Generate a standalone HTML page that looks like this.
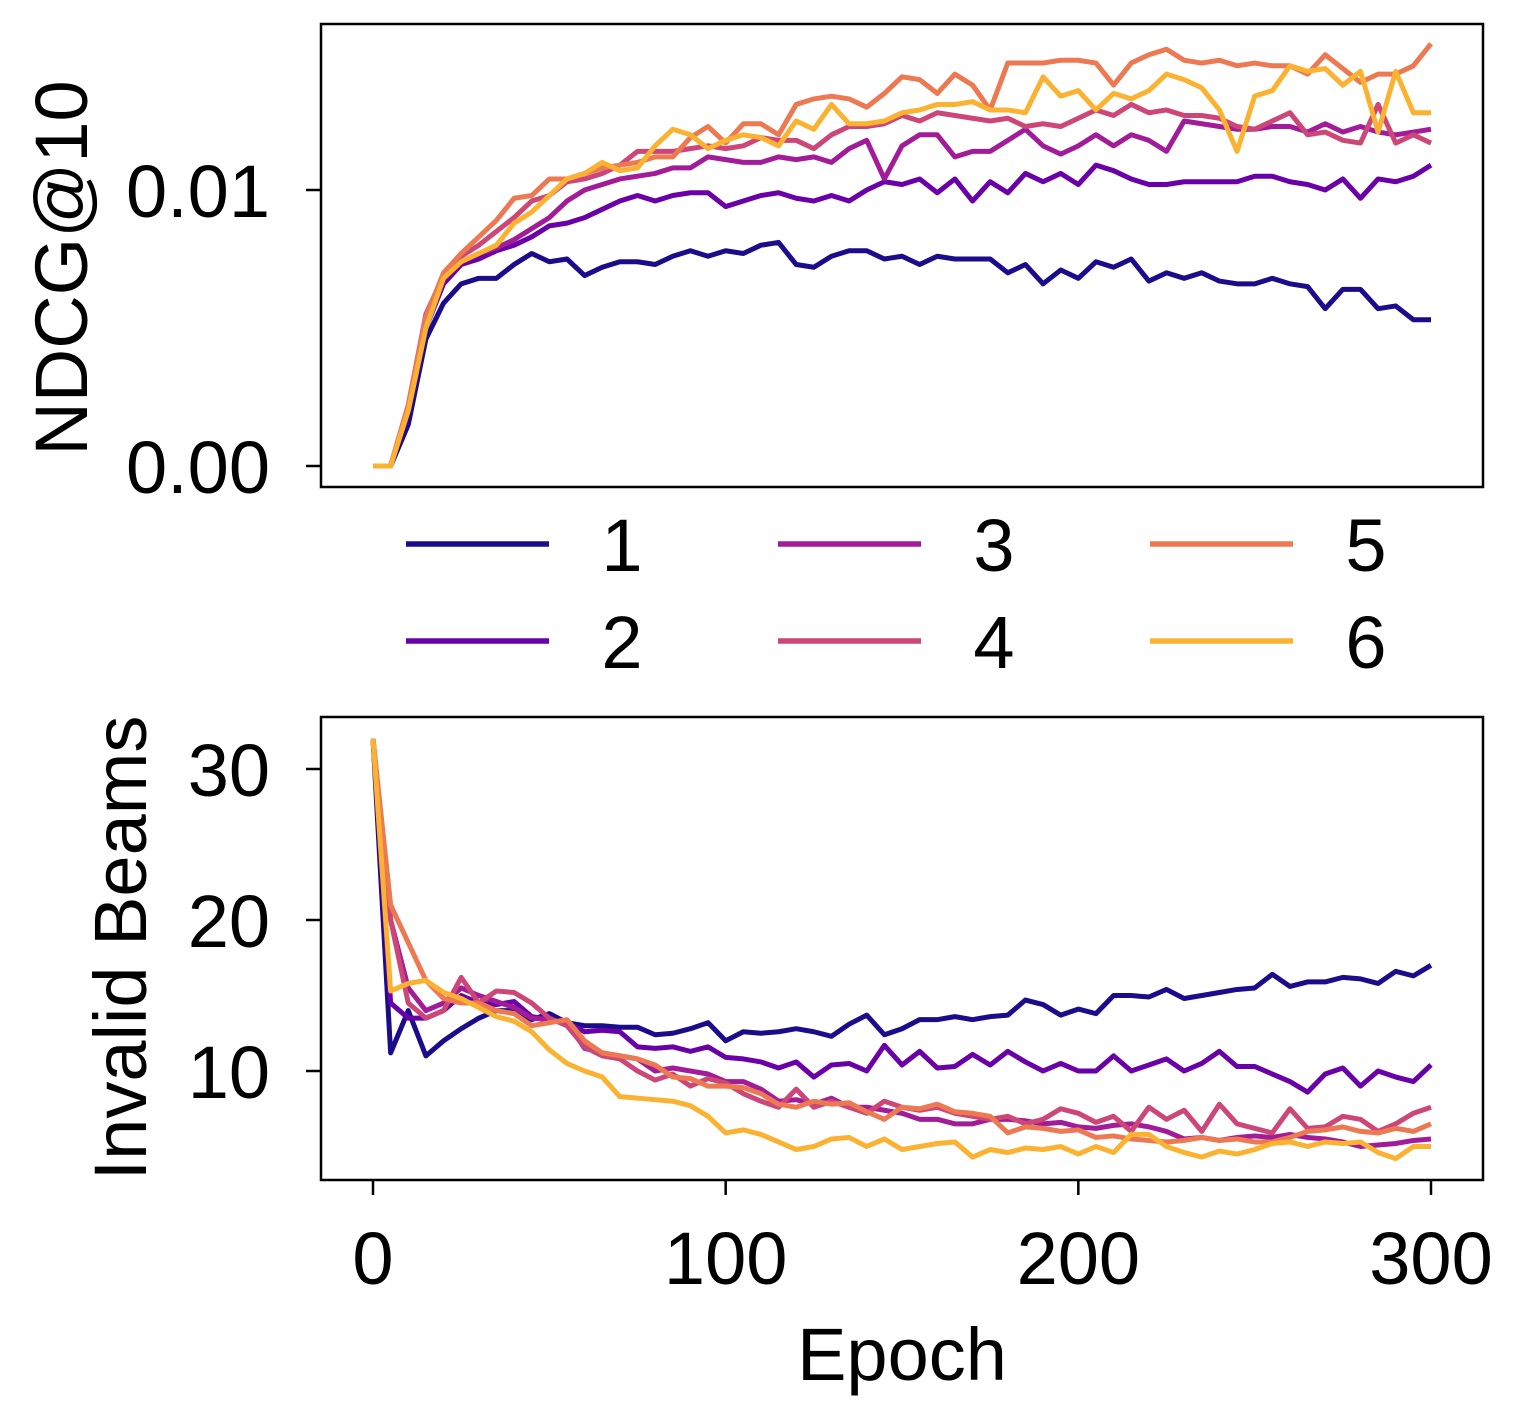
<!DOCTYPE html>
<html><head><meta charset="utf-8"><style>
body{margin:0;background:#fff}
svg text{font-family:"Liberation Sans",Arial,sans-serif;fill:#000}
</style></head><body>
<svg id="c" width="1519" height="1419" xmlns="http://www.w3.org/2000/svg"></svg>
<script>
const epochs=[];for(let i=0;i<=60;i++)epochs.push(i*5);
const seriesNames=["1","2","3","4","5","6"];
const colors=["#1b0c8c","#6a00a8","#a21c9a","#cc4778","#ed7953","#fbb231"];
const ndcg1=[0,0,1.5,4.6,5.9,6.6,6.8,6.8,7.3,7.7,7.4,7.5,6.9,7.2,7.4,7.4,7.3,7.6,7.8,7.6,7.8,7.7,8.0,8.1,7.3,7.2,7.6,7.8,7.8,7.5,7.6,7.3,7.6,7.5,7.5,7.5,7.0,7.3,6.6,7.1,6.8,7.4,7.2,7.5,6.7,7.0,6.8,7.0,6.7,6.6,6.6,6.8,6.6,6.5,5.7,6.4,6.4,5.7,5.8,5.3,5.3];
const ndcg2=[0,0,2.0,5.0,6.6,7.3,7.5,7.8,8.0,8.3,8.7,8.8,9.0,9.3,9.6,9.8,9.6,9.8,9.9,9.9,9.4,9.6,9.8,9.9,9.7,9.6,9.8,9.6,10.0,10.3,10.2,10.4,9.9,10.4,9.6,10.3,9.9,10.6,10.3,10.6,10.2,10.9,10.7,10.4,10.2,10.2,10.3,10.3,10.3,10.3,10.5,10.5,10.3,10.2,10.0,10.4,9.7,10.4,10.3,10.5,10.9];
const ndcg3=[0,0,2.2,5.3,6.8,7.4,7.7,7.9,8.2,8.6,9.0,9.6,10.0,10.2,10.4,10.5,10.6,10.8,10.8,11.2,11.1,11.0,11.0,11.2,11.1,11.2,11.0,11.5,11.8,10.4,11.6,12.0,12.0,11.2,11.4,11.4,11.8,12.2,11.6,11.3,11.6,12.0,11.6,12.0,11.8,11.4,12.5,12.4,12.3,12.2,12.2,12.3,12.3,12.1,12.4,12.1,12.3,12.1,12.0,12.1,12.2];
const ndcg4=[0,0,2.2,5.5,6.9,7.6,8.0,8.5,9.0,9.6,9.8,10.3,10.4,10.6,10.9,11.4,11.4,11.4,11.5,11.6,11.5,11.6,11.9,11.8,11.8,11.5,12.0,12.3,12.3,12.4,12.7,12.5,12.8,12.7,12.6,12.5,12.6,12.3,12.4,12.3,12.6,12.9,12.7,13.1,12.8,12.9,12.7,12.7,12.6,12.3,12.2,12.5,12.8,12.0,12.1,11.8,11.7,13.1,11.7,12.0,11.7];
const ndcg5=[0,0,2.2,5.4,7.0,7.7,8.3,8.9,9.7,9.8,10.4,10.4,10.6,10.8,10.9,11.0,11.2,11.2,11.9,12.3,11.7,12.4,12.4,12.0,13.1,13.3,13.4,13.3,13.0,13.5,14.1,14.0,13.5,14.2,13.8,12.9,14.6,14.6,14.6,14.7,14.7,14.6,13.8,14.6,14.9,15.1,14.7,14.6,14.7,14.5,14.6,14.5,14.5,14.2,14.9,14.4,13.9,14.2,14.2,14.5,15.3];
const ndcg6=[0,0,2.0,5.0,6.8,7.4,7.7,8.0,8.8,9.2,9.8,10.4,10.6,11.0,10.7,10.8,11.6,12.2,12.0,11.5,11.8,12.0,11.9,11.6,12.5,12.2,13.1,12.4,12.4,12.5,12.8,12.9,13.1,13.1,13.2,12.9,12.9,12.8,14.1,13.4,13.6,12.9,13.5,13.3,13.6,14.2,14.0,13.7,12.9,11.4,13.4,13.6,14.5,14.3,14.4,13.8,14.3,12.1,14.3,12.8,12.8];
const inv1=[32,11.2,14,11,12,12.8,13.5,14,14,13.4,13.8,13.2,13,13,12.9,12.9,12.4,12.5,12.8,13.2,12.0,12.6,12.5,12.6,12.8,12.6,12.3,13.1,13.7,12.4,12.8,13.4,13.4,13.6,13.4,13.6,13.7,14.7,14.4,13.7,14.1,13.8,15.0,15.0,14.9,15.4,14.8,15.0,15.2,15.4,15.5,16.4,15.6,15.9,15.9,16.2,16.1,15.8,16.6,16.3,17.0];
const inv2=[32,14.5,13.5,13.5,14.0,15.0,14.5,14.4,14.6,13.6,13.4,13.2,12.6,12.7,12.6,11.6,11.5,11.6,11.3,11.6,10.9,10.8,10.6,10.2,10.6,9.6,10.4,10.5,10.0,11.7,10.4,11.3,10.2,10.3,11.1,10.4,11.3,10.6,10.0,10.5,10.0,10.0,11.0,10.0,10.4,10.8,10.0,10.5,11.3,10.3,10.3,9.8,9.3,8.6,9.8,10.2,9.0,10.0,9.6,9.3,10.4];
const inv3=[32,20,15.5,14.0,14.5,15.5,15,14.6,14.2,13.5,13.4,13.2,11.5,11.2,11.0,10.8,10.0,10.2,10.0,9.8,9.3,9.3,8.8,8.0,8.1,7.8,8.2,7.6,7.6,7.4,7.2,6.8,6.8,6.5,6.5,6.8,6.8,6.7,6.5,6.6,6.3,6.2,6.4,6.5,6.3,6.0,5.5,5.6,5.4,5.6,5.7,5.6,5.8,5.6,5.5,5.3,5.0,5.1,5.2,5.4,5.5];
const inv4=[32,20,14.5,13.5,14.0,16.2,14.5,15.3,15.2,14.5,13.5,13.0,11.6,11.0,10.8,10.0,9.4,9.8,9.0,9.5,9.2,8.5,8.0,7.6,8.8,7.6,8.0,7.6,7.2,8.0,7.6,7.4,7.6,7.2,7.0,6.8,7.0,6.5,6.8,7.5,7.2,6.6,7.0,6.0,7.6,6.8,7.4,6.0,7.8,6.5,6.2,5.9,7.5,6.2,6.3,7.0,6.8,6.0,6.5,7.2,7.6];
const inv5=[32,21,18.5,16.0,14.8,14.5,14.5,14.0,13.8,13.0,13.2,13.4,12.0,11.2,11.0,10.8,10.4,9.6,9.5,9.0,9.0,8.9,8.5,7.8,7.6,8.0,7.8,7.9,7.3,6.8,7.6,7.5,7.8,7.3,7.2,7.0,5.9,6.3,6.2,6.0,6.1,5.6,5.7,5.5,5.4,5.3,5.4,5.6,5.4,5.5,5.3,5.3,5.6,6.0,6.1,6.3,6.0,5.9,6.2,6.0,6.5];
const inv6=[32,15.3,15.8,16.0,15.2,14.8,14.2,13.6,13.3,12.6,11.4,10.5,10.0,9.6,8.3,8.2,8.1,8.0,7.7,7.0,5.9,6.1,5.8,5.3,4.8,5.0,5.5,5.6,5.0,5.5,4.8,5.0,5.2,5.3,4.3,4.8,4.6,4.9,4.8,5.0,4.5,5.0,4.6,5.8,5.8,5.0,4.6,4.3,4.7,4.5,4.8,5.2,5.3,5.0,5.3,5.2,5.3,4.6,4.2,5.0,5.0];
const topTicks=[0,10];const topTickLabels=["0.00","0.01"];
const botTicks=[10,20,30];const xTicks=[0,100,200,300];

const FS=74;
const svg=document.getElementById('c');const NS="http://www.w3.org/2000/svg";
function mk(t,a,p){const e=document.createElementNS(NS,t);for(const k in a)e.setAttribute(k,a[k]);(p||svg).appendChild(e);return e;}
const X=e=>373+e*(1431-373)/300;
const Yt=v=>466-v*27.6;
const Yb=v=>1071-(v-10)*15.1;
function panel(y0,y1,yf,ticks,labels,data,name){
  const g=mk('g',{});
  
  
  data.forEach((s,i)=>{
    const p=mk('polyline',{points:s.map((v,j)=>X(epochs[j])+','+yf(v)).join(' '),fill:'none',stroke:colors[i],'stroke-width':5,'stroke-linejoin':'round'},g);
    
    
  });
  const r=mk('rect',{x:321,y:y0,width:1162,height:y1-y0,fill:'none',stroke:'#000','stroke-width':2.5},g);
  
  
  ticks.forEach((t,i)=>{
    mk('line',{x1:306,x2:321,y1:yf(t),y2:yf(t),stroke:'#000','stroke-width':2.5},g);
    const tx=mk('text',{x:270,y:yf(t)+27,'font-size':FS,'text-anchor':'end'},g);tx.textContent=labels[i];
    
    
  });
}
panel(24,487,Yt,topTicks,topTickLabels,[ndcg1,ndcg2,ndcg3,ndcg4,ndcg5,ndcg6],'ndcg-panel');
panel(717,1180,Yb,botTicks,botTicks.map(String),[inv1,inv2,inv3,inv4,inv5,inv6],'invalid-panel');
xTicks.forEach(t=>{
  mk('line',{x1:X(t),x2:X(t),y1:1180,y2:1195,stroke:'#000','stroke-width':2.5});
  const tx=mk('text',{x:X(t),y:1284,'font-size':FS,'text-anchor':'middle'});tx.textContent=t;
  
  
});
let t=mk('text',{x:0,y:0,'font-size':FS,'text-anchor':'middle',transform:'translate(87,268) rotate(-90)'});t.textContent='NDCG@10';


t=mk('text',{x:0,y:0,'font-size':FS,'text-anchor':'middle',transform:'translate(146,948) rotate(-90)'});t.textContent='Invalid Beams';


t=mk('text',{x:902,y:1380,'font-size':FS,'text-anchor':'middle'});t.textContent='Epoch';


const lx=[406,778,1150],ly=[544,641];
seriesNames.forEach((n,i)=>{
  const c=Math.floor(i/2),r=i%2;
  const g=mk('g',{});
  
  
  mk('line',{x1:lx[c],x2:lx[c]+143,y1:ly[r],y2:ly[r],stroke:colors[i],'stroke-width':5.5},g);
  const tx=mk('text',{x:lx[c]+216,y:ly[r]+27,'font-size':FS,'text-anchor':'middle'},g);tx.textContent=n;
});
</script>
</body></html>
